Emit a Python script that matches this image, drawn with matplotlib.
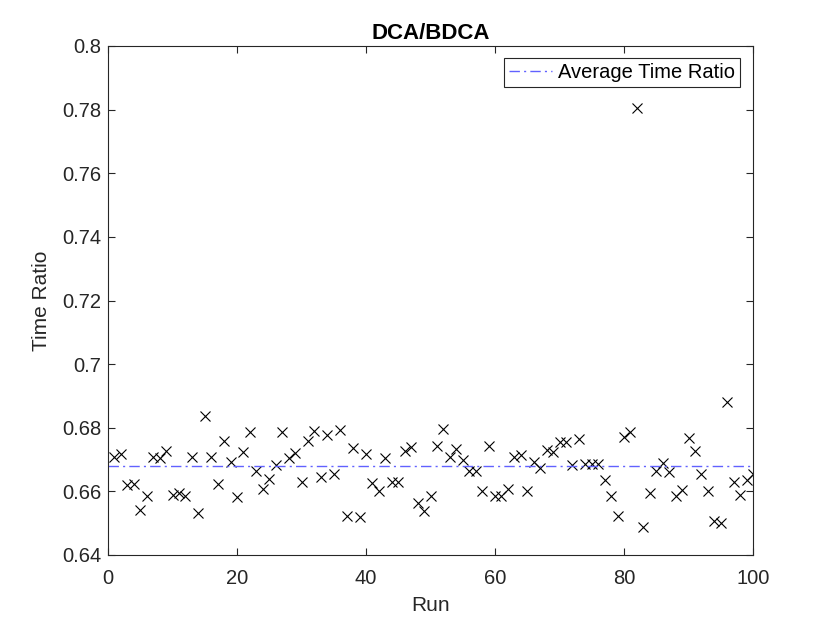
import numpy as np
import matplotlib
matplotlib.use("Agg")
import matplotlib.pyplot as plt

plt.rcParams['font.family'] = ['Liberation Sans', 'DejaVu Sans']

runs = list(range(1, 101))
time_ratio = [
    0.6708, 0.6718, 0.6619, 0.6624, 0.6542, 0.6587, 0.6708, 0.6705, 0.6726, 0.6590,
    0.6596, 0.6587, 0.6708, 0.6532, 0.6836, 0.6708, 0.6622, 0.6759, 0.6692, 0.6582,
    0.6724, 0.6786, 0.6664, 0.6608, 0.6638, 0.6682, 0.6788, 0.6706, 0.6720, 0.6631,
    0.6757, 0.6790, 0.6645, 0.6776, 0.6656, 0.6792, 0.6522, 0.6736, 0.6519, 0.6716,
    0.6626, 0.6600, 0.6706, 0.6629, 0.6631, 0.6727, 0.6741, 0.6564, 0.6537, 0.6587,
    0.6742, 0.6797, 0.6708, 0.6734, 0.6700, 0.6663, 0.6664, 0.6600, 0.6742, 0.6587,
    0.6584, 0.6608, 0.6708, 0.6715, 0.6600, 0.6692, 0.6674, 0.6731, 0.6724, 0.6755,
    0.6755, 0.6684, 0.6765, 0.6687, 0.6687, 0.6687, 0.6635, 0.6585, 0.6522, 0.6772,
    0.6786, 0.7805, 0.6488, 0.6595, 0.6664, 0.6689, 0.6661, 0.6587, 0.6605, 0.6767,
    0.6728, 0.6655, 0.6601, 0.6506, 0.6501, 0.6881, 0.6629, 0.6590, 0.6635, 0.6656,
]
avg_ratio = 0.668
x_ticks = [0, 20, 40, 60, 80, 100]
y_ticks = [0.64, 0.66, 0.68, 0.7, 0.72, 0.74, 0.76, 0.78, 0.8]
y_tick_labels = ['0.64', '0.66', '0.68', '0.7', '0.72', '0.74', '0.76', '0.78', '0.8']

fig = plt.figure(figsize=(8.3, 6.23), dpi=100)
ax = fig.add_axes([108/830, 1-555/623, (753-108)/830, (555-46)/623])

axc = (0.15, 0.15, 0.15)
ax.plot(runs, time_ratio, linestyle='none', marker='x', color='black',
        markersize=7.5, markeredgewidth=0.8)
ax.plot([0, 100], [avg_ratio, avg_ratio], linestyle=(0, (7.5, 3.0, 1.5, 3.0)),
        color=(0.38, 0.38, 1.0), linewidth=1.0, label='Average Time Ratio')

ax.set_xlim(0, 100)
ax.set_ylim(0.64, 0.8)
ax.set_xticks(x_ticks)
ax.set_xticklabels([str(t) for t in x_ticks])
ax.set_yticks(y_ticks)
ax.set_yticklabels(y_tick_labels)
ax.tick_params(direction='in', length=5, width=0.8, top=True, right=True,
               labelsize=14.5, colors=axc)
ax.tick_params(axis='x', pad=10)
ax.tick_params(axis='y', pad=5)
for s in ax.spines.values():
    s.set_color(axc)
    s.set_linewidth(0.8)

ax.set_xlabel('Run', fontsize=15, color=axc, labelpad=6)
ax.set_ylabel('Time Ratio', fontsize=15, color=axc, labelpad=8)
ax.set_title('DCA/BDCA', fontsize=16, fontweight='bold', pad=5)

leg = ax.legend(loc='upper right', bbox_to_anchor=(1-13/645, 1-12/509),
                borderaxespad=0, fontsize=14.5, fancybox=False, framealpha=1,
                edgecolor=axc, handlelength=2.15, handletextpad=0.3,
                borderpad=0.25)
leg.get_frame().set_linewidth(0.8)

fig.savefig('out.png', dpi=100)
